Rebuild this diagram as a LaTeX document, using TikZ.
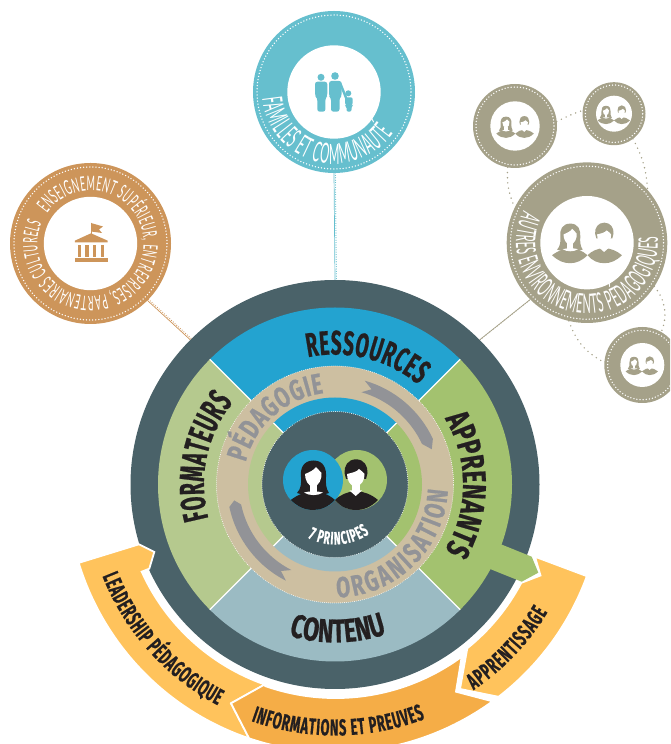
\documentclass[tikz,border=0pt]{standalone}
\usepackage{fontspec}
\usetikzlibrary{decorations.text}
\newfontfamily\titlef[FakeStretch=0.56,FakeBold=0.6]{Fira Sans}
\newfontfamily\titlew[FakeStretch=0.7,FakeBold=0.6]{Fira Sans}
\newfontfamily\thinf[FakeStretch=0.45]{Lato}
\newfontfamily\thinn[FakeStretch=0.4]{Lato}
\newcommand{\ftitle}[1]{\titlef\bfseries\fontsize{#1}{#1}\selectfont}
\newcommand{\fwide}[1]{\titlew\bfseries\fontsize{#1}{#1}\selectfont}
\newcommand{\fthin}[1]{\thinf\fontsize{#1}{#1}\selectfont}
\newcommand{\fnarrow}[1]{\thinn\fontsize{#1}{#1}\selectfont}
\definecolor{darkteal}{HTML}{4A6269}
\definecolor{secblue}{HTML}{23A3D0}
\definecolor{secgreen}{HTML}{A3C26F}
\definecolor{secpale}{HTML}{B5C98E}
\definecolor{seclight}{HTML}{9BBBC3}
\definecolor{beige}{HTML}{CDBFA1}
\definecolor{arrowgrey}{HTML}{929397}
\definecolor{orangeA}{HTML}{FFC35C}
\definecolor{orangeB}{HTML}{F5AD47}
\definecolor{inkk}{HTML}{231F20}
\definecolor{famc}{HTML}{66BFCE}
\definecolor{ensc}{HTML}{CD955A}
\definecolor{envc}{HTML}{A5A189}
\tikzset{
 disc/.style={circle,inner sep=0pt,outer sep=0pt,minimum size=#1},
 dotring/.style={white,line width=1.5pt,line cap=round,dash pattern=on 0pt off 3.1pt},
 thinring/.style={white,line width=0.9pt,line cap=round,dash pattern=on 0pt off 2pt},
 linkdots/.style={line width=1.6pt,line cap=round,dash pattern=on 0pt off 5.2pt,color=envc},
 conline/.style={line width=0.7pt},
 condots/.style={line width=1.2pt,line cap=round,dash pattern=on 0pt off 2.4pt},
 bandshape/.style={draw=white,line width=1.8pt,line join=miter,fill=#1},
}
% couple icon: #1 position, #2 scale, #3 colour, #4 face colour
\newcommand{\coupleicon}[4]{%
\begin{scope}[shift={#1},scale=#2]
 \fill[#3] (-44.3,-20) .. controls (-36,-14) and (-30,-12) .. (-21.7,-11) .. controls (-13,-12) and (-7,-14) .. (0,-20) .. controls (-7,-27) and (-14,-30) .. (-21.7,-30) .. controls (-30,-30) and (-37,-27) .. (-44.3,-20) -- cycle;
 \fill[#3] (0,-20) .. controls (6,-14) and (13,-12) .. (21,-10.7) .. controls (29,-12) and (36,-14) .. (43,-20) .. controls (36,-27) and (29,-30) .. (21,-30) .. controls (13,-30) and (6,-27) .. (0,-20) -- cycle;
 \fill[#3] (-21.5,19.5) .. controls (-32,19.5) and (-35,11) .. (-34,3) .. controls (-33.5,-3) and (-34,-9) .. (-38,-13) .. controls (-30,-16) and (-14,-16) .. (-6,-13) .. controls (-9,-9) and (-9.5,-3) .. (-9,3) .. controls (-8.5,11) and (-11,19.5) .. (-21.5,19.5) -- cycle;
 \fill[#4] (-30,6) .. controls (-25,8) and (-21,10) .. (-19,13) .. controls (-17,10) and (-14.5,9) .. (-13.5,7) .. controls (-13,1) and (-16,-6) .. (-21.7,-7) .. controls (-27,-6) and (-30,0) .. (-30,6) -- cycle;
 \fill[#4] (-25.5,-5) rectangle (-18,-12);
 \fill[#4] (-31,-12.5) .. controls (-26,-11) and (-17,-11) .. (-12,-12.5) .. controls (-17,-16) and (-26,-16) .. (-31,-12.5) -- cycle;
 \fill[#3] (21,20.7) .. controls (13,20.7) and (9,14) .. (9.5,7) -- (11,1) -- (31,1) -- (32.5,7) .. controls (33,14) and (29,20.7) .. (21,20.7) -- cycle;
 \fill[#4] (12,6) .. controls (16,7) and (22,8) .. (24,11) .. controls (26,9) and (28.5,8) .. (29.5,6) .. controls (30,0) and (26,-6) .. (20.7,-7) .. controls (15,-6) and (12,0) .. (12,6) -- cycle;
 \fill[#4] (16.5,-5) rectangle (25,-11);
 \fill[#4] (14.5,-10.5) -- (20.7,-16) -- (27,-10.5) -- cycle;
\end{scope}}
\begin{document}
\begin{tikzpicture}[x=1pt,y=1pt]
\useasboundingbox (0,0) rectangle (670,744);
\clip (0,0) rectangle (670,744);
% outer circles
\node[disc=162pt,fill=famc] (fam) at (334,652) {};
\node[disc=161pt,fill=ensc] (ens) at (90.5,500.5) {};
\node[disc=160.6pt,fill=envc] (env) at (587,501.3) {};
\node[disc=84pt,fill=envc] (sa) at (515,618) {};
\node[disc=63pt,fill=envc] (sb) at (614,630.3) {};
\node[disc=76pt,fill=envc] (sc) at (642.3,379) {};
\node[disc=409pt] (main) at (335,259.5) {};
% connectors
\draw[conline,famc] (fam.south) -- (main.north);
\draw[condots,famc,transform canvas={shift={(1.4pt,0pt)}}] (fam.south) -- (main.north);
\draw[conline,ensc] (ens.-45) -- (main.135);
\draw[condots,ensc,transform canvas={shift={(1.1pt,1.1pt)}}] (ens.-45) -- (main.135);
\draw[conline,envc] (env.225) -- (main.45);
\draw[condots,envc,transform canvas={shift={(-1.1pt,-1.1pt)}}] (env.225) -- (main.45);
\draw[linkdots] (sa.6) to[bend left=4] (sb.174);
\draw[linkdots] (sa.260) to[bend right=14] (env.154);
\draw[linkdots] (sb.-53) to[bend left=12] (env.41);
\draw[linkdots] (env.257) to[bend right=22] (sc.176);
\draw[linkdots] (env.-33) to[bend left=30] (sc.60);
% white insets and dotted rings
\foreach \n/\rr/\ri in {fam/77/46.7,ens/76.5/46.7,env/76.5/46.7,sa/39/24.7,sb/28.7/18,sc/34.7/22}{
 \draw[dotring] (\n) circle (\rr pt);
 \fill[white] (\n) circle (\ri pt);
}
% icons
\coupleicon{(587.5,504.8)}{0.8}{envc}{white}
\coupleicon{(515.3,619)}{0.43}{envc}{white}
\coupleicon{(614,631)}{0.37}{envc}{white}
\coupleicon{(642,380)}{0.37}{envc}{white}
\begin{scope}[shift={(0,744)},yscale=-1]
 % family
 \fill[famc] (321,77.3) circle (3.5) (335,76) circle (3.8) (348.3,93.3) circle (3);
 \fill[famc,rounded corners=2.5pt] (315,81.7) -- (327.3,81.7) -- (327.3,96) -- (325.4,98) -- (325.4,111.7) -- (317.3,111.7) -- (317.3,98) -- (315,96) -- cycle;
 \fill[famc,rounded corners=2.5pt] (329,81) -- (341.7,81) -- (341.7,96) -- (339.5,98) -- (339.5,111.7) -- (331,111.7) -- (331,98) -- (329,96) -- cycle;
 \draw[famc,line width=2.4pt,line cap=round] (340.5,84) -- (346.5,99);
 \fill[famc,rounded corners=2pt] (345,97.3) -- (352.7,97.3) -- (352.7,105) -- (351.5,106) -- (351.5,111.7) -- (346.5,111.7) -- (346.5,106) -- (345,105) -- cycle;
 % bank
 \draw[ensc,line width=1pt] (91,222.7) -- (91,234);
 \fill[ensc] (91,223) -- (103,226.5) -- (99,229.5) -- (102,233) -- (91,231.5) -- cycle;
 \fill[ensc] (74.8,240.7) -- (91,233.3) -- (107.7,240.7) -- (107.7,242.5) -- (74.8,242.5) -- cycle;
 \fill[ensc] (74.5,258.3) rectangle (107.8,261.7);
 \foreach \cx in {79.5,87,94.7,102.3}{\fill[ensc] (\cx-1.7,245.5) rectangle (\cx+1.7,256.8);}
\end{scope}
\begin{scope}[shift={(main.center)}]
 % main disc
 \fill[darkteal] (0,0) circle (204.5);
 \fill[secblue] (0,0) -- (45:177) arc[start angle=45,end angle=135,radius=177] -- cycle;
 \fill[secpale] (0,0) -- (135:177) arc[start angle=135,end angle=225,radius=177] -- cycle;
 \fill[seclight] (0,0) -- (225:177) arc[start angle=225,end angle=315,radius=177] -- cycle;
 \fill[secgreen] (0,0) -- (315:177) arc[start angle=315,end angle=405,radius=177] -- cycle;
 % orange bands
 \path[bandshape=orangeA] (197:268) -- (-196,-59.8) -- (-180.7,-67.5) -- (-185.7,-84.2) -- (-193.3,-87.2) arc[start angle=204.3,end angle=250.7,radius=212] -- (-104,-218.8) -- (251.3:268) arc[start angle=251.3,end angle=197,radius=268] -- cycle;
 \path[bandshape=orangeA] (200,-72.2) -- (340:268) arc[start angle=340,end angle=307.6,radius=268] -- (125,-204.5) -- (132.3,-163.8) arc[start angle=308.9,end angle=332.1,radius=211] -- (205.5,-91) -- cycle;
 \path[bandshape=orangeB] (-70,-199.8) -- (-104,-218.8) -- (251.3:268) arc[start angle=251.3,end angle=306,radius=268] -- (121,-207.2) -- (126.7,-172.2) arc[start angle=306.3,end angle=250.7,radius=213] -- cycle;
 % green tab
 \fill[secgreen] (166,-59.8) -- (196.7,-72.2) -- (203.3,-88.2) -- (186.7,-97.2) -- (155,-84.5) -- cycle;
 \foreach \a in {45,135,225,315}{\draw[white,line width=1.3pt] (0,0) -- (\a:177);}
 \fill[beige] (0,0) circle (118.5);
 \draw[thinring] (0,0) circle (118.5);
 \fill[secblue] (0,0) -- (45:87) arc[start angle=45,end angle=135,radius=87] -- cycle;
 \fill[secpale] (0,0) -- (135:87) arc[start angle=135,end angle=225,radius=87] -- cycle;
 \fill[seclight] (0,0) -- (225:87) arc[start angle=225,end angle=315,radius=87] -- cycle;
 \fill[secgreen] (0,0) -- (315:87) arc[start angle=315,end angle=405,radius=87] -- cycle;
 \foreach \a in {45,135,225,315}{\draw[white,line width=1.3pt] (0,0) -- (\a:87);}
 \fill[darkteal] (0,0) circle (73);
 \draw[thinring] (0,0) circle (73);
 % grey ribbons
 \fill[arrowgrey] (74:108) arc[start angle=74,end angle=25,radius=108] -- (20:103) -- (25:96) arc[start angle=25,end angle=74,radius=96] -- (69:102) -- cycle;
 \fill[arrowgrey] (192:108) arc[start angle=192,end angle=243,radius=108] -- (238:102) -- (243:96) arc[start angle=243,end angle=192,radius=96] -- (189:102) -- cycle;
 % centre pair
 \fill[secgreen] (22,4.5) circle (30);
 \fill[secblue] (-22,4.5) circle (30);
\end{scope}
\coupleicon{(335,264)}{1}{inkk}{white}
\begin{scope}[shift={(main.center)}]
 % main labels
 \path[decorate,decoration={text along path,text align=fit to path,text={|\ftitle{34}\color{inkk}|RESSOURCES}}] (102:130) arc[start angle=102,end angle=50,radius=130];
 \path[decorate,decoration={text along path,text align=fit to path,text={|\fwide{33}\color{inkk}|APPRENANTS}}] (31:128) arc[start angle=31,end angle=-31,radius=128];
 \path[decorate,decoration={text along path,text align=fit to path,text={|\fwide{33}\color{inkk}|CONTENU}}] (253:158) arc[start angle=253,end angle=289,radius=158];
 \path[decorate,decoration={text along path,text align=fit to path,text={|\ftitle{35}\color{inkk}|FORMATEURS}}] (195:131) arc[start angle=195,end angle=141,radius=131];
 \path[decorate,decoration={text along path,text align=fit to path,text={|\fwide{29}\color{arrowgrey}|PÉDAGOGIE}}] (166:92) arc[start angle=166,end angle=97,radius=92];
 \path[decorate,decoration={text along path,text align=fit to path,text={|\fwide{29}\color{arrowgrey}|ORGANISATION}}] (271:113) arc[start angle=271,end angle=357,radius=113];
 \path[decorate,decoration={text along path,text align=fit to path,text={|\ftitle{18}\color{white}|7 PRINCIPES}}] (243:60) arc[start angle=243,end angle=305,radius=60];
 % band labels
 \path[decorate,decoration={text along path,text align=fit to path,text={|\ftitle{23}\color{inkk}|LEADERSHIP PÉDAGOGIQUE}}] (201.5:250) arc[start angle=201.5,end angle=242,radius=250];
 \path[decorate,decoration={text along path,text align=fit to path,text={|\ftitle{23}\color{inkk}|INFORMATIONS ET PREUVES}}] (250.5:251) arc[start angle=250.5,end angle=291,radius=251];
 \path[decorate,decoration={text along path,text align=fit to path,text={|\ftitle{23}\color{inkk}|APPRENTISSAGE}}] (304:248) arc[start angle=304,end angle=329,radius=248];
\end{scope}
% circle labels
\path[decorate,decoration={text along path,text align=fit to path,text={|\fthin{20}\color{white}|ENSEIGNEMENT SUPÉRIEUR, ENTREPRISES, PARTENAIRES CULTURELS}}] ([shift={(145:53)}]ens.center) arc[start angle=145,end angle=-203,radius=53];
\path[decorate,decoration={text along path,text align=fit to path,text={|\fnarrow{28}\color{white}|FAMILLES ET COMMUNAUTÉ}}] ([shift={(185:72)}]fam.center) arc[start angle=185,end angle=325,radius=72];
\path[decorate,decoration={text along path,text align=fit to path,text={|\fnarrow{27}\color{white}|AUTRES ENVIRONNEMENTS PÉDAGOGIQUES}}] ([shift={(153.5:71)}]env.center) arc[start angle=153.5,end angle=365,radius=71];
\end{tikzpicture}
\end{document}
